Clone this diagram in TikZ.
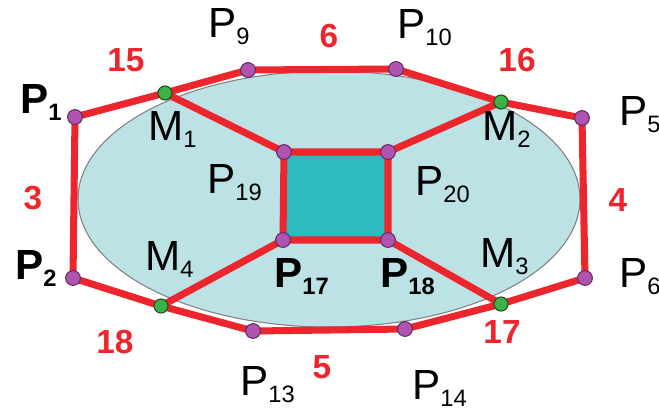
\documentclass[tikz,border=0pt]{standalone}
\usepackage{fontspec}
\setmainfont{Liberation Sans}
\definecolor{edgered}{RGB}{236,38,44}
\definecolor{ovalblue}{RGB}{188,226,230}
\definecolor{squareteal}{RGB}{44,188,192}
\definecolor{ptpurple}{RGB}{176,84,176}
\definecolor{ptgreen}{RGB}{58,178,72}
\newcommand{\sublab}[2]{#1\raisebox{-4.5pt}{\fontsize{13.5}{14}\selectfont #2}}
\pgfdeclarelayer{back}
\pgfdeclarelayer{edges}
\pgfsetlayers{back,edges,main}

\begin{document}
\begin{tikzpicture}[x=0.02cm,y=-0.02cm,
  vtx/.style={circle,draw=ptpurple!55!black,fill=ptpurple,inner sep=0pt,minimum size=8.4pt,line width=0.6pt},
  mpt/.style={circle,draw=ptgreen!45!black,fill=ptgreen,inner sep=0pt,minimum size=8pt,line width=0.6pt},
  lbl/.style={anchor=base west,inner sep=0pt,font=\fontsize{24}{24}\selectfont},
  num/.style={inner sep=0pt,text=edgered,font=\fontsize{19}{19}\selectfont\bfseries},
  redline/.style={draw=edgered,line width=4pt,line join=round}]
  \useasboundingbox (0,0) rectangle (659,414);
  % outer points
  \node[vtx] (p1) at (75,117) {};
  \node[vtx] (p9) at (248,70) {};
  \node[vtx] (p10) at (396,69) {};
  \node[vtx] (p5) at (582,118) {};
  \node[vtx] (p6) at (585,278) {};
  \node[vtx] (p14) at (405,329) {};
  \node[vtx] (p13) at (253,331) {};
  \node[vtx] (p2) at (73,278) {};
  % tangent points
  \node[mpt] (m1) at (165,93) {};
  \node[mpt] (m2) at (501,102) {};
  \node[mpt] (m3) at (501,304) {};
  \node[mpt] (m4) at (161,306) {};
  % square corners
  \node[vtx] (p19) at (284,152) {};
  \node[vtx] (p20) at (388,152) {};
  \node[vtx] (p18) at (388,240) {};
  \node[vtx] (p17) at (283,240) {};
  % labels
  \node[lbl] (l-p1) at (20,113) {\bfseries\sublab{P}{1}};
  \node[lbl] (l-p2) at (15,279) {\bfseries\sublab{P}{2}};
  \node[lbl] (l-p9) at (208,37) {\sublab{P}{9}};
  \node[lbl] (l-p10) at (397,38) {\sublab{P}{10}};
  \node[lbl] (l-p5) at (619,125) {\sublab{P}{5}};
  \node[lbl] (l-p6) at (619,287) {\sublab{P}{6}};
  \node[lbl] (l-p14) at (412,399) {\sublab{P}{14}};
  \node[lbl] (l-p13) at (240,395) {\sublab{P}{13}};
  \node[lbl] (l-p17) at (274,287) {\bfseries\sublab{P}{17}};
  \node[lbl] (l-p18) at (380,287) {\bfseries\sublab{P}{18}};
  \node[lbl] (l-p19) at (207,193) {\sublab{P}{19}};
  \node[lbl] (l-p20) at (415,195) {\sublab{P}{20}};
  \node[lbl] (l-m1) at (148,140) {\sublab{M}{1}};
  \node[lbl] (l-m2) at (482,140) {\sublab{M}{2}};
  \node[lbl] (l-m3) at (480,267) {\sublab{M}{3}};
  \node[lbl] (l-m4) at (145,270) {\sublab{M}{4}};
  % edge numbers
  \node[num] (n15) at (126,60) {15};
  \node[num] (n6) at (329,36) {6};
  \node[num] (n16) at (517,60) {16};
  \node[num] (n3) at (33,198) {3};
  \node[num] (n4) at (618,200) {4};
  \node[num] (n18) at (115,342) {18};
  \node[num] (n5) at (322,367) {5};
  \node[num] (n17) at (502,332) {17};
  \begin{pgfonlayer}{back}
    \draw[fill=ovalblue,draw=black!50,line width=0.6pt] (329,199) ellipse [x radius=251,y radius=128];
    \fill[squareteal] (p19.center) rectangle (p18.center);
  \end{pgfonlayer}
  \begin{pgfonlayer}{edges}
    \draw[redline] (p1.center) -- (m1.center) -- (p9.center) -- (p10.center) -- (m2.center) -- (p5.center)
      -- (p6.center) -- (m3.center) -- (p14.center) -- (p13.center) -- (m4.center) -- (p2.center) -- cycle;
    \draw[redline] (p19.center) -- (p20.center) -- (p18.center) -- (p17.center) -- cycle;
    \draw[redline] (m1.center) -- (p19.center);
    \draw[redline] (m2.center) -- (p20.center);
    \draw[redline] (m3.center) -- (p18.center);
    \draw[redline] (m4.center) -- (p17.center);
  \end{pgfonlayer}
\end{tikzpicture}
\end{document}
